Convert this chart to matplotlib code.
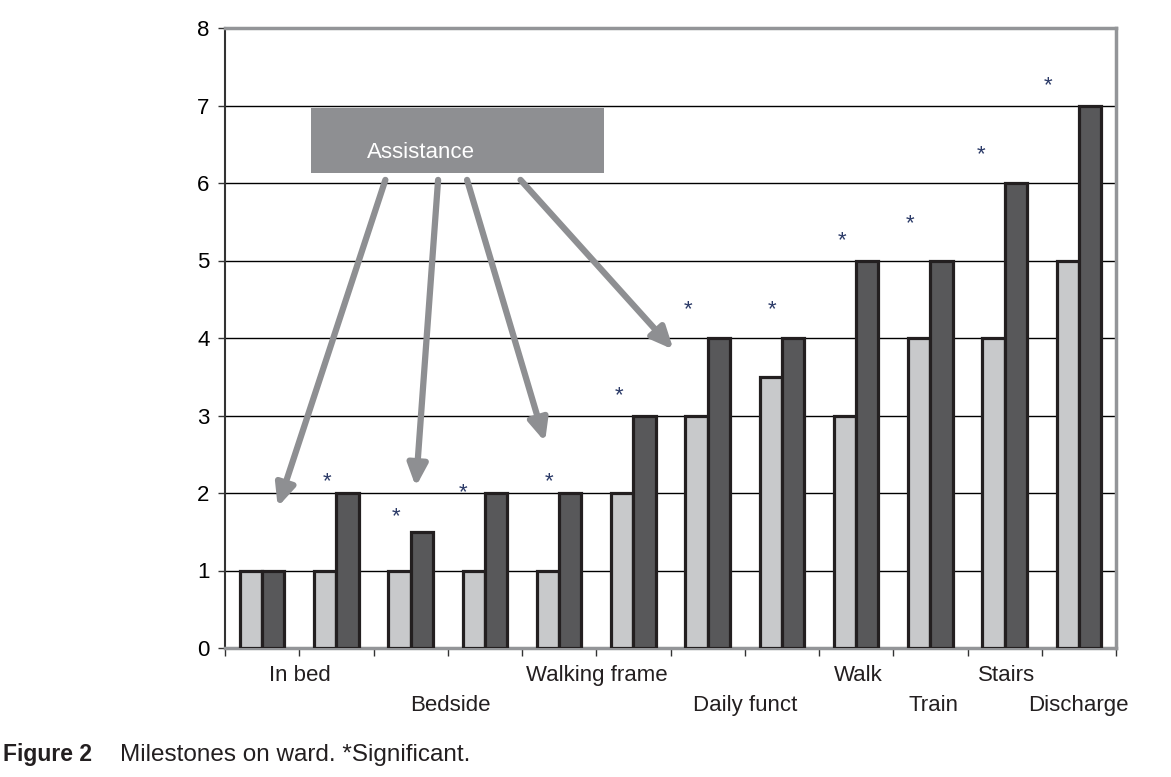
import matplotlib.pyplot as plt
import numpy as np

plt.rcParams['font.family'] = ['Liberation Sans', 'DejaVu Sans']

# bar values per milestone (light = before, dark = after)
light_vals = [1, 1, 1, 1, 1, 2, 3, 3.5, 3, 4, 4, 5]
dark_vals = [1, 2, 1.5, 2, 2, 3, 4, 4, 5, 5, 6, 7]

# category labels and where they sit on the axis
labels = ["In bed", "Bedside", "Walking frame", "Daily funct",
          "Walk", "Train", "Stairs", "Discharge"]
label_x = [0.51, 2.53, 4.51, 6.51, 8.03, 9.04, 10.03, 10.99]
label_row = [0, 1, 0, 1, 0, 1, 0, 1]

# significance stars
star_x = [0.87, 1.8, 2.7, 3.87, 4.8, 5.73, 6.87, 7.81, 8.73, 9.68, 10.58]
star_y = [2.19, 1.74, 2.05, 2.19, 3.29, 4.41, 4.41, 5.29, 5.52, 6.4, 7.3]

# arrows from the Assistance box
arrow_start = [(1.66, 6.04), (2.37, 6.04), (2.76, 6.04), (3.48, 6.04)]
arrow_end = [(0.21, 1.82), (2.07, 2.08), (3.81, 2.66), (5.54, 3.85)]

light = "#c8c9cb"
dark = "#58585a"
edge = "#231f20"
grey = "#8e8f92"

fig = plt.figure(figsize=(11.71, 7.77), dpi=100)
ax = fig.add_axes([225 / 1171, 1 - 648 / 777, 891 / 1171, 620 / 777])

x = np.arange(len(light_vals))
w = 0.3
ax.bar(x - w / 2, light_vals, w, color=light, edgecolor=edge, linewidth=2.3, zorder=3)
ax.bar(x + w / 2, dark_vals, w, color=dark, edgecolor=edge, linewidth=2.3, zorder=3)

ax.set_xlim(-0.5, 11.5)
ax.set_ylim(0, 8)
ax.set_yticks(range(0, 9))
ax.yaxis.grid(True, color="black", linewidth=1.0, zorder=0)
ax.set_axisbelow(True)
ax.set_xticks(np.arange(-0.5, 12, 1))
ax.set_xticklabels([])
ax.tick_params(axis="x", direction="out", length=6, width=1, color="#333333")
ax.tick_params(axis="y", direction="out", length=5, width=1, color="#333333",
               labelsize=16, pad=6)

for side in ["top", "right", "bottom"]:
    ax.spines[side].set_color("#939598")
    ax.spines[side].set_linewidth(2.5)
ax.spines["left"].set_color("#333333")
ax.spines["left"].set_linewidth(1.5)

for lx, lab, row in zip(label_x, labels, label_row):
    ax.text(lx, -0.22 - row * 0.39, lab, ha="center", va="top", fontsize=16,
            color="#231f20", clip_on=False)

for sx, sy in zip(star_x, star_y):
    ax.text(sx, sy - 0.04, "*", ha="center", va="center", fontsize=16,
            color="#2b3a67")

# Assistance box
ax.add_patch(plt.Rectangle((0.66, 6.13), 3.95, 0.84, facecolor=grey,
                           edgecolor="none", zorder=5))
ax.text(2.14, 6.4, "Assistance", ha="center", va="center", fontsize=16,
        color="white", zorder=6)

for (x0, y0), (x1, y1) in zip(arrow_start, arrow_end):
    ax.annotate("", xy=(x1, y1), xytext=(x0, y0),
                arrowprops=dict(arrowstyle="-|>,head_length=1.0,head_width=0.45",
                                color=grey, linewidth=4.5, mutation_scale=13,
                                shrinkA=0, shrinkB=0),
                zorder=6)

fig.text(3 / 1171, 1 - 755 / 777, "Figure 2", fontsize=16.5, fontweight="bold",
         color="#231f20", va="center")
fig.text(120 / 1171, 1 - 755 / 777, "Milestones on ward. *Significant.",
         fontsize=17.5, color="#231f20", va="center")

fig.savefig("out.png", dpi=100)
